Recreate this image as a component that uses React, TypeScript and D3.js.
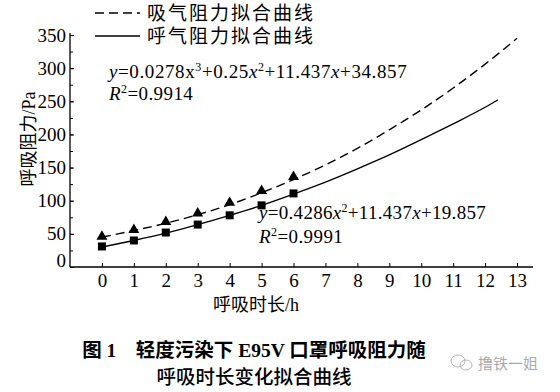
import * as d3 from 'd3'
import { useEffect, useRef } from 'react'

// measured points (h -> Pa)
const hours = [0, 1, 2, 3, 4, 5, 6]
const inhalePts = [46, 56, 68, 81, 97, 115, 136]
const exhalePts = [31, 40, 52, 64, 78, 93, 111]

// fitted curves
const inhaleFitX = [0, 1, 2, 3, 4, 5, 6, 7, 8, 9, 10, 11, 12, 13]
const inhaleFitY = [45, 55, 66, 79, 94, 112, 132, 154, 179, 207, 237, 270, 306, 345]
const exhaleFitX = [0, 1, 2, 3, 4, 5, 6, 7, 8, 9, 10, 11, 12, 12.4]
const exhaleFitY = [30, 40, 51, 64, 78, 93, 110, 128, 148, 169, 192, 216, 241, 252]

const xTicks = d3.range(0, 14)
const yTicks = [0, 50, 100, 150, 200, 250, 300, 350]
const yMinor = d3.range(0, 351, 25)

const legendLabels = ['吸气阻力拟合曲线', '呼气阻力拟合曲线']
const yTitle = '呼吸阻力/Pa'
const xTitle = '呼吸时长/h'
const caption1 = '图 1\u3000轻度污染下 E95V 口罩呼吸阻力随'
const caption2 = '呼吸时长变化拟合曲线'

const serif = '"Liberation Serif", "Noto Sans CJK SC", serif'

export default function App() {
    const svgRef = useRef(null)
    const W = 560, H = 392

    useEffect(() => {
        const svg = d3.select(svgRef.current)
        svg.selectAll('*').remove()

        const x = d3.scaleLinear().domain([-1, 13.5]).range([70, 533])
        const y = d3.scaleLinear().domain([0, 350]).range([267, 35])

        // axes
        const yAxis = d3.axisLeft(y).tickValues(yTicks).tickSize(-4).tickPadding(4)
        const yMinorAxis = d3.axisLeft(y).tickValues(yMinor).tickSize(-3).tickFormat(() => '')
        const xAxis = d3.axisBottom(x).tickValues(xTicks).tickSize(-4).tickPadding(7)

        svg.append('g').attr('transform', `translate(${x(-1)},0)`).call(yMinorAxis)
            .call(g => g.select('.domain').remove())
        svg.append('g')
            .attr('transform', `translate(${x(-1)},0)`)
            .call(yAxis)
            .call(g => g.selectAll('text').style('font', `19px ${serif}`).attr('fill', '#000'))
            .call(g => g.selectAll('.tick').filter(d => d === 0).select('text').attr('dy', '-0.05em'))
            .call(g => g.select('.domain').attr('d', `M0,${y(350) - 2}V${y(0)}`).attr('stroke', '#000').attr('stroke-width', 1.3))
        svg.append('g')
            .attr('transform', `translate(0,${y(0)})`)
            .call(xAxis)
            .call(g => g.selectAll('text').style('font', `19px ${serif}`).attr('fill', '#000'))
            .call(g => g.select('.domain').attr('d', `M${x(-1)},0H${x(13.5)}`).attr('stroke', '#000').attr('stroke-width', 1.3))

        // axis titles
        svg.append('text')
            .attr('transform', `translate(35,${(y(0) + y(350)) / 2 - 12}) rotate(-90)`)
            .attr('text-anchor', 'middle')
            .style('font', `18px ${serif}`)
            .text(yTitle)
        svg.append('text')
            .attr('x', 256).attr('y', 311)
            .attr('text-anchor', 'middle')
            .style('font', `18px ${serif}`)
            .text(xTitle)

        // fit curves
        const line = d3.line().x(d => x(d[0])).y(d => y(d[1])).curve(d3.curveMonotoneX)
        svg.append('path')
            .attr('d', line(inhaleFitX.map((v, i) => [v, inhaleFitY[i]])))
            .attr('fill', 'none').attr('stroke', '#000').attr('stroke-width', 1.4)
            .attr('stroke-dasharray', '9,5')
        svg.append('path')
            .attr('d', line(exhaleFitX.map((v, i) => [v, exhaleFitY[i]])))
            .attr('fill', 'none').attr('stroke', '#000').attr('stroke-width', 1.4)

        // markers
        svg.append('g').selectAll('path')
            .data(hours)
            .join('path')
                .attr('transform', (d, i) => `translate(${x(d)},${y(inhalePts[i])})`)
                .attr('d', d3.symbol(d3.symbolTriangle, 52)())
                .attr('fill', '#000')
        svg.append('g').selectAll('rect')
            .data(hours)
            .join('rect')
                .attr('x', d => x(d) - 4)
                .attr('y', (d, i) => y(exhalePts[i]) - 4)
                .attr('width', 8).attr('height', 8)
                .attr('fill', '#000')

        // legend
        const lg = svg.append('g')
        legendLabels.forEach((lab, i) => {
            const ly = 13 + i * 23
            lg.append('line').attr('x1', 95).attr('x2', 140).attr('y1', ly).attr('y2', ly)
                .attr('stroke', '#000').attr('stroke-width', 1.4)
                .attr('stroke-dasharray', i === 0 ? '9,5' : null)
            lg.append('text').attr('x', 147).attr('y', ly + 7)
                .style('font', `19px ${serif}`)
                .attr('textLength', 166).attr('lengthAdjust', 'spacing')
                .text(lab)
        })

        // equations
        const rich = (tx, ty, size, ls, parts) => {
            const t = svg.append('text').attr('x', tx).attr('y', ty)
                .style('font', `${size}px ${serif}`).attr('letter-spacing', ls)
            parts.forEach(p => {
                const s = t.append('tspan').text(p.t)
                if (p.i) s.attr('font-style', 'italic')
                if (p.sup) s.attr('dy', -7).style('font-size', '12px')
                if (p.back) s.attr('dy', 7)
            })
        }
        rich(109, 78, 19, 0.6, [
            { t: 'y', i: 1 }, { t: '=0.0278x' }, { t: '3', sup: 1 }, { t: '+0.25', back: 1 },
            { t: 'x', i: 1 }, { t: '2', sup: 1 }, { t: '+11.437', back: 1 }, { t: 'x', i: 1 }, { t: '+34.857' },
        ])
        rich(109, 100, 19, 0.4, [{ t: 'R', i: 1 }, { t: '2', sup: 1 }, { t: '=0.9914', back: 1 }])
        rich(259, 219, 19, 0.3, [
            { t: 'y', i: 1 }, { t: '=0.4286' }, { t: 'x', i: 1 }, { t: '2', sup: 1 },
            { t: '+11.437', back: 1 }, { t: 'x', i: 1 }, { t: '+19.857' },
        ])
        rich(259, 243, 19, 0.4, [{ t: 'R', i: 1 }, { t: '2', sup: 1 }, { t: '=0.9991', back: 1 }])

        // caption
        svg.append('text').attr('x', 254).attr('y', 357).attr('text-anchor', 'middle')
            .style('font', `bold 19.5px ${serif}`)
            .text(caption1)
        svg.append('text').attr('x', 254).attr('y', 384).attr('text-anchor', 'middle')
            .style('font', `500 19.5px ${serif}`)
            .text(caption2)

        // watermark
        const wm = svg.append('g').attr('fill', 'none').attr('stroke', '#b5b5b5').attr('stroke-width', 1)
        wm.append('ellipse').attr('cx', 458).attr('cy', 361).attr('rx', 7).attr('ry', 6)
        wm.append('ellipse').attr('cx', 466).attr('cy', 365).attr('rx', 6).attr('ry', 5)
        svg.append('text').attr('x', 478).attr('y', 369)
            .style('font', '15px "Noto Sans CJK SC", sans-serif')
            .attr('fill', '#aaa')
            .text('撸铁一姐')
    }, [])

    return (
        <svg ref={svgRef} width={W} height={H}
            style={{ position: 'absolute', left: 0, top: 0, background: '#fff' }} />
    )
}
